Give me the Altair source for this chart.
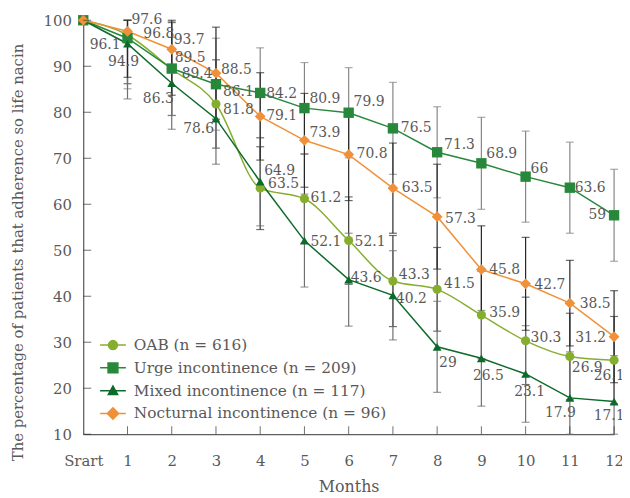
import json
import altair as alt
import pandas as pd

# ---------------- data ----------------
months = list(range(13))
month_labels = ["Srart", "1", "2", "3", "4", "5", "6", "7", "8", "9", "10", "11", "12"]
y_ticks = [10, 20, 30, 40, 50, 60, 70, 80, 90, 100]

series_names = [
    "OAB (n = 616)",
    "Urge incontinence (n = 209)",
    "Mixed incontinence (n = 117)",
    "Nocturnal incontinence (n = 96)",
]

oab_values = [100, 96.8, 89.4, 81.8, 63.5, 61.2, 52.1, 43.3, 41.5, 35.9, 30.3, 26.9, 26.1]
oab_labels = ["", "96.8", "89.4", "81.8", "63.5", "61.2", "52.1", "43.3", "41.5", "35.9", "30.3", "26.9", "26.1"]
oab_err = [None, 10.6, 10.1, 9.6, 9.0, 9.7, 9.5, 9.9, 9.1, 9.5, 9.5, 9.4, 9.5]

urge_values = [100, 96.1, 89.5, 86.1, 84.2, 80.9, 79.9, 76.5, 71.3, 68.9, 66.0, 63.6, 57.6]
urge_labels = ["", "96.1", "89.5", "86.1", "84.2", "80.9", "79.9", "76.5", "71.3", "68.9", "66", "63.6", "59"]
urge_err = [None, 11.0, 10.2, 10.0, 9.8, 9.9, 9.8, 10.0, 9.9, 10.0, 9.9, 9.9, 10.0]

mixed_values = [100, 94.9, 86.3, 78.6, 64.9, 52.1, 43.6, 40.2, 29.0, 26.5, 23.1, 17.9, 17.1]
mixed_labels = ["", "94.9", "86.3", "78.6", "64.9", "52.1", "43.6", "40.2", "29", "26.5", "23.1", "17.9", "17.1"]
mixed_err = [None, 12.0, 10.0, 9.9, 9.6, 10.1, 10.1, 9.7, 9.9, 10.4, 10.5, 10.0, 10.0]

noct_values = [100, 97.6, 93.7, 88.5, 79.1, 73.9, 70.8, 63.5, 57.3, 45.8, 42.7, 38.5, 31.2]
noct_labels = ["", "97.6", "93.7", "88.5", "79.1", "73.9", "70.8", "63.5", "57.3", "45.8", "42.7", "38.5", "31.2"]
noct_err = [None, 10.0, 10.0, 10.0, 9.5, 10.2, 10.0, 9.8, 11.4, 9.5, 10.1, 9.3, 10.0]

# ---------------- styles ----------------
FONT = "DejaVu Serif"
TEXT_COLOR = "#595959"
W, H = 536, 418
line_colors = ["#86ae2e", "#27883b", "#0c6a2a", "#f0913a"]
bar_colors = ["#333333", "#858585", "#6f6f6f", "#262626"]
point_shapes = ["circle", "square", "triangle-up", "diamond"]
point_sizes = [85, 110, 80, 120]
interps = ["monotone", "linear", "linear", "linear"]
legend_paths = [
    "M-1,0H1M-0.35,0A0.35,0.35,0,1,0,0.35,0A0.35,0.35,0,1,0,-0.35,0Z",
    "M-1,0H1M-0.38,-0.38H0.38V0.38H-0.38Z",
    "M-1,0H1M0,-0.36L0.36,0.3H-0.36Z",
    "M-1,0H1M0,-0.44L0.44,0L0,0.44L-0.44,0Z",
]
# label placement per point (align, dx px, dy px) for months 1..12
label_layout = [
    [("left", 16, -1), ("left", 10, 5), ("left", 7, 6), ("left", 8, -4), ("left", 6, -1), ("left", 6, 1),
     ("left", 6, -6), ("left", 7, -5), ("left", 8, -2), ("left", 5, -3), ("left", 2, 12), ("center", -5, 16)],
    [("right", -7, 7), ("left", 3, -11), ("left", 7, 8), ("left", 6, 1), ("left", 5, -9), ("left", 5, -11),
     ("left", 8, 0), ("left", 7, -7), ("left", 5, -9), ("left", 5, -8), ("left", 5, 0), ("right", -8, 0)],
    [("center", -4, 19), ("right", 2, 16), ("right", -2, 10), ("left", 4, -11), ("left", 6, 1), ("left", 2, -2),
     ("left", 3, 4), ("left", 2, 16), ("center", 7, 18), ("center", 4, 18), ("right", 6, 15), ("center", -5, 15)],
    [("left", 4, -14), ("left", 2, -9), ("left", 5, -3), ("left", 6, 0), ("left", 5, -7), ("left", 8, -1),
     ("left", 9, 0), ("left", 8, 2), ("left", 8, 0), ("left", 9, 1), ("left", 10, 1), ("right", -8, 1)],
]

all_values = [oab_values, urge_values, mixed_values, noct_values]
all_labels = [oab_labels, urge_labels, mixed_labels, noct_labels]
all_errs = [oab_err, urge_err, mixed_err, noct_err]

rows = []
for s, name in enumerate(series_names):
    for i, m in enumerate(months):
        err = all_errs[s][i]
        lay = label_layout[s][i - 1] if i > 0 else ("left", 0, 0)
        rows.append({
            "series": name, "month": m, "value": all_values[s][i], "label": all_labels[s][i],
            "lo": None if err is None else all_values[s][i] - err,
            "hi": None if err is None else all_values[s][i] + err,
            "align": lay[0], "dx": lay[1], "dy": lay[2],
        })
df = pd.DataFrame(rows)

x_label_expr = json.dumps(month_labels) + "[datum.value]"


def X(field="month:Q"):
    return alt.X(field, scale=alt.Scale(domain=[0, 12], nice=False, zero=False),
                 axis=alt.Axis(values=months, labelExpr=x_label_expr, ticks=False, grid=False,
                               labelFlush=False, labelOverlap=False,
                               title="Months", labelPadding=20, titleX=W / 2, titleY=53,
                               titleBaseline="middle"))


def Y(field="value:Q"):
    return alt.Y(field, scale=alt.Scale(domain=[10, 100], nice=False, zero=False, clamp=True),
                 axis=alt.Axis(values=y_ticks, ticks=False, grid=False, labelFlush=False,
                               title="The percentage of patients that adherence so life nacin",
                               labelPadding=12, titleX=-66, titleY=234, titleBaseline="middle",
                               titleAngle=-90, titleFontSize=15))


layers = []
base = alt.Chart(df)

# error bars
for s, name in enumerate(series_names):
    sub = base.transform_filter((alt.datum.series == name) & (alt.datum.month > 0))
    layers.append(sub.mark_rule(color=bar_colors[s], strokeWidth=1.2).encode(
        x=X(), y=Y("lo:Q"), y2="hi:Q"))
    layers.append(sub.mark_tick(orient="horizontal", color=bar_colors[s], size=8, thickness=1.2).encode(
        x=X(), y=Y("lo:Q")))
    layers.append(sub.mark_tick(orient="horizontal", color=bar_colors[s], size=8, thickness=1.2).encode(
        x=X(), y=Y("hi:Q")))

# lines and points
for s, name in enumerate(series_names):
    sub = base.transform_filter(alt.datum.series == name)
    layers.append(sub.mark_line(color=line_colors[s], strokeWidth=1.5, interpolate=interps[s]).encode(
        x=X(), y=Y()))
for s, name in enumerate(series_names):
    sub = base.transform_filter(alt.datum.series == name)
    layers.append(sub.mark_point(shape=point_shapes[s], filled=True, opacity=1, color=line_colors[s],
                                 size=point_sizes[s]).encode(x=X(), y=Y()))

# value labels (pixel offsets converted through the plot size)
for al in ["left", "center", "right"]:
    sub = base.transform_filter((alt.datum.align == al) & (alt.datum.month > 0)).transform_calculate(
        lx=f"datum.month + datum.dx * 12 / {W}",
        ly=f"datum.value - datum.dy * 90 / {H}",
    )
    layers.append(sub.mark_text(align=al, baseline="middle", font=FONT, fontSize=14,
                                color=TEXT_COLOR).encode(
        x=X("lx:Q"), y=Y("ly:Q"), text="label:N"))

# inward axis ticks
ytick_df = pd.DataFrame({"v": y_ticks})
xtick_df = pd.DataFrame({"m": months[1:]})
layers.append(alt.Chart(ytick_df).mark_tick(orient="horizontal", size=8, thickness=1, color="#333333",
                                            xOffset=4).encode(x=alt.datum(0), y=Y("v:Q")))
layers.append(alt.Chart(xtick_df).mark_tick(orient="vertical", size=8, thickness=1, color="#333333",
                                            yOffset=-4).encode(x=X("m:Q"), y=alt.datum(10)))

# legend (invisible layer carrying the legend)
leg = alt.Legend(title=None, orient="none", legendX=16, legendY=314, symbolSize=676,
                 symbolStrokeWidth=1.5, symbolOpacity=1, labelFont=FONT, labelFontSize=15.5,
                 labelColor=TEXT_COLOR, labelOffset=7, rowPadding=0, labelLimit=0)
layers.append(base.mark_point(opacity=0, strokeWidth=1.5).encode(
    x=X(), y=Y(),
    fill=alt.Fill("series:N", scale=alt.Scale(domain=series_names, range=line_colors), legend=leg),
    stroke=alt.Stroke("series:N", scale=alt.Scale(domain=series_names, range=line_colors), legend=leg),
    shape=alt.Shape("series:N", scale=alt.Scale(domain=series_names, range=legend_paths), legend=leg),
))

chart = alt.layer(*layers).properties(
    width=W, height=H,
    autosize=alt.AutoSizeParams(type="none"),
    padding={"left": 76, "top": 10, "right": 8, "bottom": 60},
).configure_view(stroke=None).configure_axis(
    labelFont=FONT, labelFontSize=15, labelColor=TEXT_COLOR,
    titleFont=FONT, titleFontSize=16, titleColor=TEXT_COLOR, titleFontWeight="normal",
    domainColor="#333333", domainWidth=1,
)

chart.save("out.html", embed_options={"renderer": "svg", "actions": False})
